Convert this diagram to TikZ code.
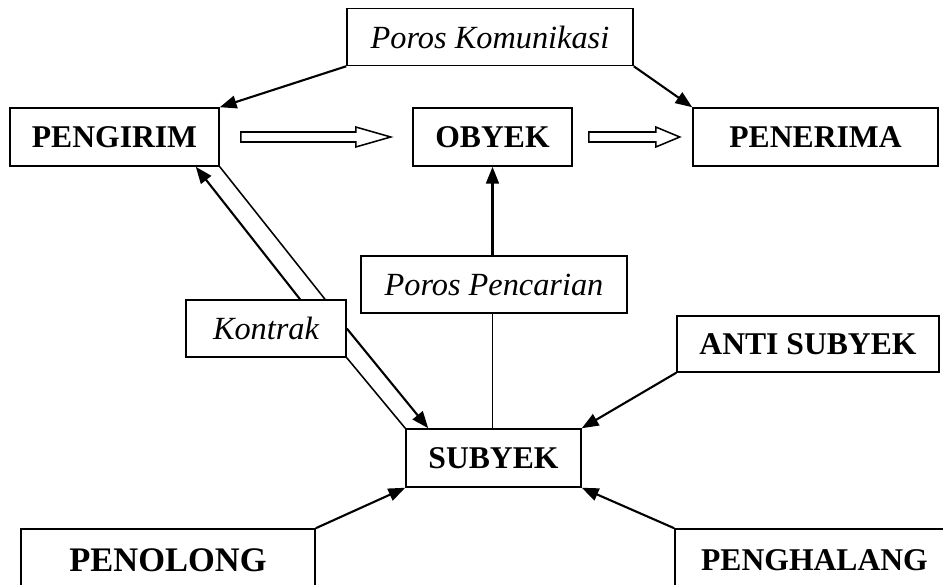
\documentclass[tikz,border=0pt]{standalone}
\usepackage{fontspec}
\setmainfont{Liberation Serif}
\usetikzlibrary{arrows.meta}

\begin{document}
\begin{tikzpicture}[
  >={Triangle[length=4.2mm,width=3.2mm]},
  actant/.style={rectangle,draw,line width=1.1pt,inner sep=0pt,minimum height=1.45cm,font=\fontsize{22.5}{26}\selectfont\bfseries},
  axis/.style={rectangle,draw,line width=1.1pt,inner sep=0pt,minimum height=1.425cm,font=\fontsize{23}{26}\selectfont\itshape},
  link/.style={->,line width=1.5pt},
  plain/.style={line width=1.1pt},
  hollow/.style={draw,line width=1.1pt,fill=white},
]
\useasboundingbox (0,0) rectangle (23.575,14.6);
\clip (0,0) rectangle (23.575,14.6);
% top row
\node[axis,minimum width=7.15cm] (kom) at (12.25,13.675) {Poros Komunikasi};
\node[actant,minimum width=5.225cm] (send) at (2.8625,11.175) {PENGIRIM};
\node[actant,minimum width=3.975cm] (obj) at (12.3125,11.175) {OBYEK};
\node[actant,minimum width=6.125cm] (recv) at (20.3875,11.175) {PENERIMA};
% middle
\node[axis,minimum width=6.65cm] (cari) at (12.35,7.4875) {Poros Pencarian};
\node[axis,minimum width=4.0cm] (kontrak) at (6.65,6.3875) {Kontrak};
\node[actant,minimum width=6.55cm,minimum height=1.4cm] (anti) at (20.2,6.0) {ANTI SUBYEK};
\node[actant,minimum width=4.375cm] (subj) at (12.3375,3.15) {SUBYEK};
% bottom row
\node[actant,minimum width=7.35cm,minimum height=1.55cm,font=\fontsize{24.5}{28}\selectfont\bfseries] (tolong) at (4.2,0.6) {PENOLONG};
\node[actant,minimum width=6.975cm,minimum height=1.55cm] (halang) at (20.3625,0.6) {PENGHALANG};
% connectors
\draw[link] (kom.south west) -- (send.north east);
\draw[link] (kom.south east) -- (recv.north west);
\draw[link] (obj.south |- cari.north) -- (obj.south);
\draw[plain] (obj.south |- cari.south) -- (obj.south |- subj.north);
\draw[link] ([xshift=0.85cm]kontrak.north) -- ([xshift=-0.6cm]send.south east);
\draw[plain] ([xshift=1.475cm]kontrak.north) -- (send.south east);
\draw[link] (kontrak.east) -- ([xshift=0.575cm]subj.north west);
\draw[plain] (kontrak.south east) -- (subj.north west);
\draw[link] (anti.south west) -- (subj.north east);
\draw[link] (tolong.north east) -- (subj.south west);
\draw[link] (halang.north west) -- (subj.south east);
% hollow arrows
\draw[hollow] ([xshift=0.525cm,yshift=0.125cm]send.east) -- ++(2.875,0) -- ++(0,0.125)
  -- ++(0.875,-0.25) -- ++(-0.875,-0.25) -- ++(0,0.125) -- ++(-2.875,0) -- cycle;
\draw[hollow] ([xshift=0.4cm,yshift=0.125cm]obj.east) -- ++(1.675,0) -- ++(0,0.125)
  -- ++(0.6,-0.25) -- ++(-0.6,-0.25) -- ++(0,0.125) -- ++(-1.675,0) -- cycle;
\end{tikzpicture}
\end{document}
